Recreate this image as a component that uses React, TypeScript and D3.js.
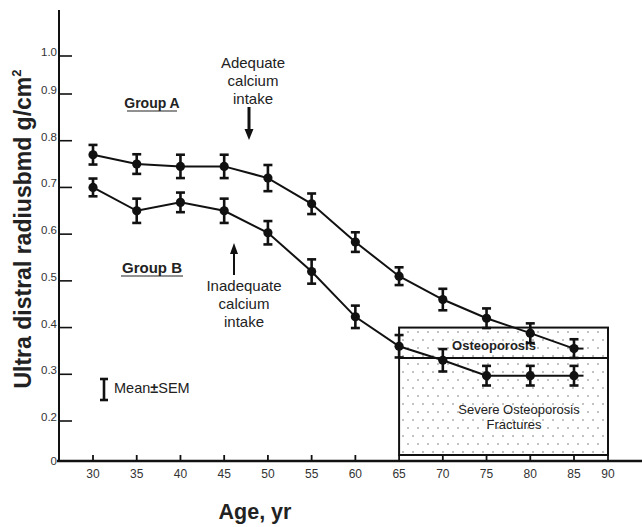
import React from 'react';
import * as d3 from 'd3';

// ages on the x axis
const ages = [30, 35, 40, 45, 50, 55, 60, 65, 70, 75, 80, 85];
// ultra distal radius BMD, g/cm2
const groupA = [0.77, 0.75, 0.745, 0.745, 0.72, 0.665, 0.583, 0.51, 0.46, 0.42, 0.388, 0.355];
const groupB = [0.70, 0.65, 0.668, 0.65, 0.603, 0.52, 0.423, 0.36, 0.33, 0.297, 0.297, 0.297];
// SEM
const semA = [0.021, 0.021, 0.025, 0.025, 0.028, 0.022, 0.021, 0.019, 0.023, 0.021, 0.021, 0.02];
const semB = [0.019, 0.026, 0.021, 0.026, 0.025, 0.026, 0.024, 0.024, 0.024, 0.021, 0.021, 0.021];

const yTicks = [0, 0.2, 0.3, 0.4, 0.5, 0.6, 0.7, 0.8, 0.9, 1.0];
const yTickLabels = ['0', '0.2', '0.3', '0.4', '0.5', '0.6', '0.7', '0.8', '0.9', '1.0'];
const xTicks = [30, 35, 40, 45, 50, 55, 60, 65, 70, 75, 80, 85, 90];

// osteoporosis zones
const zoneAges = [65, 90];
const osteoLimits = [0.335, 0.4];

const W = 642;
const H = 527;
const FONT = 'Liberation Sans, Arial, Helvetica, sans-serif';

// the scanned axes are not quite linear, so map the ticks piecewise
const x = d3.scaleLinear().domain([30, 85, 90]).range([93, 574, 608]);
const y = d3.scaleLinear().domain([0, 0.2, 0.9, 1.0]).range([461, 421, 94, 56]);

const axisX = 59;
const tickLen = 6;

const Series = ({ values, sem }: { values: number[]; sem: number[] }) => {
  const line = d3.line<number>()
    .x((_, i) => x(ages[i]))
    .y(d => y(d));
  const last = values[values.length - 1];
  return (
    <g>
      <path d={line(values) || ''} fill="none" stroke="#111" strokeWidth={2} />
      <line x1={x(85)} x2={x(86.4)} y1={y(last)} y2={y(last)} stroke="#111" strokeWidth={2} />
      {values.map((v, i) => {
        const cx = x(ages[i]);
        const y1 = y(v - sem[i]);
        const y2 = y(v + sem[i]);
        return (
          <g key={i}>
            <line x1={cx} x2={cx} y1={y1} y2={y2} stroke="#111" strokeWidth={2.6} />
            <line x1={cx - 4.5} x2={cx + 4.5} y1={y1} y2={y1} stroke="#111" strokeWidth={2.6} />
            <line x1={cx - 4.5} x2={cx + 4.5} y1={y2} y2={y2} stroke="#111" strokeWidth={2.6} />
            <circle cx={cx} cy={y(v)} r={4.6} fill="#111" />
          </g>
        );
      })}
    </g>
  );
};

export default function App() {
  const bx0 = x(zoneAges[0]);
  const bx1 = x(zoneAges[1]);
  const bTop = y(osteoLimits[1]);
  const bMid = y(osteoLimits[0]);
  const bBot = y(0) - tickLen;

  return (
    <svg width={W} height={H} style={{ position: 'absolute', left: 0, top: 0, background: '#fff' }}
      fontFamily={FONT}>
      <defs>
        <pattern id="dots" width={10} height={16} patternUnits="userSpaceOnUse">
          <circle cx={3} cy={4} r={0.75} fill="#666" />
          <circle cx={8} cy={12} r={0.75} fill="#666" />
        </pattern>
      </defs>

      {/* osteoporosis box */}
      <rect x={bx0} y={bTop} width={bx1 - bx0} height={bBot - bTop} fill="url(#dots)" stroke="#111" strokeWidth={2} />
      <line x1={bx0} x2={bx1} y1={bMid} y2={bMid} stroke="#111" strokeWidth={2} />
      <text x={494} y={350} textAnchor="middle" fontSize={13} fontWeight="bold" fill="#222">Osteoporosis</text>
      <text x={519} y={414} textAnchor="middle" fontSize={13} fill="#222">Severe Osteoporosis</text>
      <text x={514} y={429} textAnchor="middle" fontSize={13} fill="#222">Fractures</text>

      {/* y axis */}
      <line x1={axisX} x2={axisX} y1={10} y2={y(0) + 1} stroke="#111" strokeWidth={2} />
      {yTicks.map((t, i) => (
        <g key={t}>
          {t > 0 && <line x1={axisX} x2={axisX + 13} y1={y(t)} y2={y(t)} stroke="#111" strokeWidth={1.6} />}
          <text x={axisX - 2} y={y(t) + (t === 0 ? 4 : 0)} textAnchor="end" fontSize={11.5} fill="#333">{yTickLabels[i]}</text>
        </g>
      ))}

      {/* x axis */}
      <line x1={axisX - 2} x2={W} y1={y(0)} y2={y(0)} stroke="#111" strokeWidth={2.4} />
      {xTicks.map(t => (
        <g key={t}>
          <line x1={x(t)} x2={x(t)} y1={y(0)} y2={y(0) - tickLen} stroke="#111" strokeWidth={1.8} />
          <text x={x(t)} y={478} textAnchor="middle" fontSize={12} fill="#333">{t}</text>
        </g>
      ))}

      {/* axis titles */}
      <text x={255} y={519} textAnchor="middle" fontSize={21.5} fontWeight="bold" fill="#222">Age, yr</text>
      <text transform={`translate(31,${229}) rotate(-90)`} textAnchor="middle" fontSize={23} fontWeight="bold" fill="#222">
        Ultra distral radiusbmd g/cm<tspan fontSize={13} dy={-10}>2</tspan>
      </text>

      {/* data */}
      <Series values={groupA} sem={semA} />
      <Series values={groupB} sem={semB} />

      {/* group labels */}
      <text x={152} y={108} textAnchor="middle" fontSize={14} fontWeight="bold" fill="#222">Group A</text>
      <line x1={127} x2={177} y1={111} y2={111} stroke="#222" strokeWidth={1.2} />
      <text x={152} y={273} textAnchor="middle" fontSize={15} fontWeight="bold" fill="#222">Group B</text>
      <line x1={121} x2={183} y1={276} y2={276} stroke="#222" strokeWidth={1.2} />

      {/* adequate intake */}
      <g fontSize={15} fill="#222" textAnchor="middle">
        <text x={253} y={68}>Adequate</text>
        <text x={253} y={86}>calcium</text>
        <text x={253} y={104}>intake</text>
      </g>
      <line x1={249} x2={249} y1={107} y2={131} stroke="#111" strokeWidth={3} />
      <path d="M244.5,129 L253.5,129 L249,140 Z" fill="#111" />

      {/* inadequate intake */}
      <g fontSize={15} fill="#222" textAnchor="middle">
        <text x={244} y={291}>Inadequate</text>
        <text x={244} y={309}>calcium</text>
        <text x={244} y={327}>intake</text>
      </g>
      <line x1={234} x2={234} y1={275} y2={252} stroke="#111" strokeWidth={2} />
      <path d="M230,254 L238,254 L234,243 Z" fill="#111" />

      {/* legend */}
      <line x1={104} x2={104} y1={379} y2={400} stroke="#111" strokeWidth={2.6} />
      <line x1={100} x2={108} y1={379} y2={379} stroke="#111" strokeWidth={2.6} />
      <line x1={100} x2={108} y1={400} y2={400} stroke="#111" strokeWidth={2.6} />
      <text x={114} y={393} fontSize={14.5} fill="#222">
        Mean<tspan fontWeight="bold">±</tspan>SEM
      </text>
    </svg>
  );
}
